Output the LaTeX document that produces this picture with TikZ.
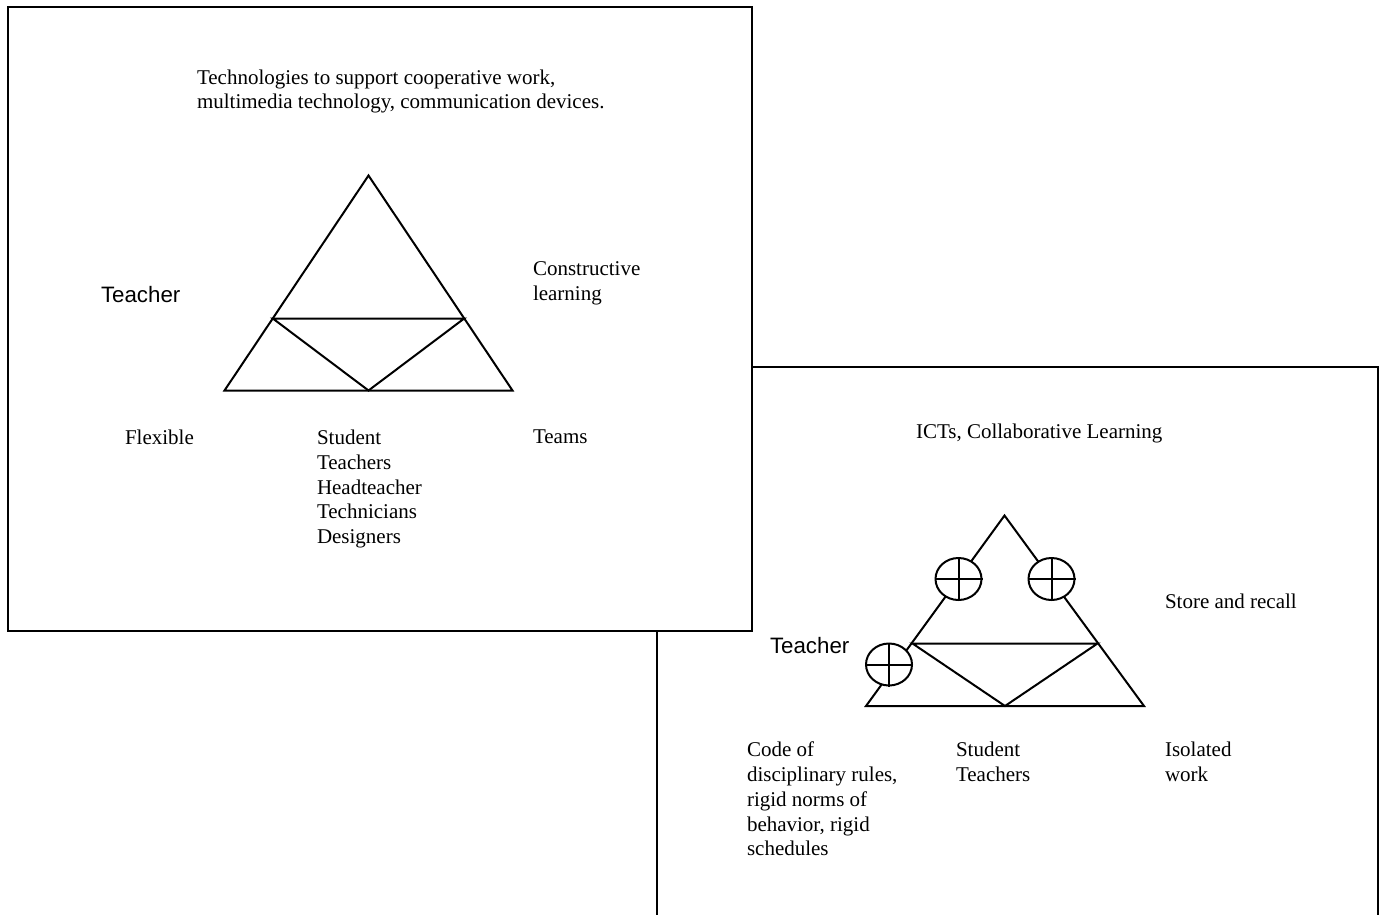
\documentclass[tikz,border=0pt]{standalone}
\usepackage{fontspec}
\setmainfont{Liberation Serif}
\setsansfont{Liberation Sans}
\usetikzlibrary{shapes.geometric}
\begin{document}
\begin{tikzpicture}[x=1pt,y=-1pt,line width=2pt,
  txt/.style={anchor=north west,inner sep=0pt,align=left,font=\fontsize{21}{24.8}\selectfont},
  sftxt/.style={anchor=base west,inner sep=0pt,font=\sffamily\fontsize{22.3}{26}\selectfont},
  panel/.style={draw=black,fill=white,line width=2pt},
  tri/.style={draw=black,line width=2pt,line join=miter},
  plusmark/.style={ellipse,draw=black,fill=white,line width=2pt,inner sep=0pt,minimum width=46pt,minimum height=42pt}]
\path[use as bounding box] (0,0) rectangle (1381,915);
\clip (0,0) rectangle (1381,915);
% back panel
\path[panel] (657,367) rectangle (1378,940);
% front panel
\path[panel] (8,7) rectangle (752,631);

% ---- front panel contents
\node[txt] (tech) at (196,68.5) {Technologies to support cooperative work,\\multimedia technology, communication devices.};
\node[sftxt] (teacherA) at (100,302) {Teacher};
\node[txt] (constr) at (532,261) {Constructive\\learning};
\node[txt] (flex) at (124,429) {Flexible};
\node[txt] (studA) at (316,429) {Student\\Teachers\\Headteacher\\Technicians\\Designers};
\node[txt] (teams) at (532,429) {Teams};

\coordinate (A1) at (368.5,175.5);
\coordinate (L1) at (224.5,390.5);
\coordinate (R1) at (512.5,390.5);
\coordinate (ML1) at (272.8,318.5);
\coordinate (MR1) at (464.2,318.5);
\coordinate (B1) at (368.5,390.5);
\draw[tri] (A1) -- (R1) -- (L1) -- cycle;
\draw[tri] (ML1) -- (MR1) -- (B1) -- cycle;

% ---- back panel contents
\node[txt] (icts) at (915,423) {ICTs, Collaborative Learning};
\node[txt] (store) at (1164,593) {Store and recall};
\node[sftxt] (teacherB) at (769,653) {Teacher};
\node[txt] (code) at (746,741) {Code of\\disciplinary rules,\\rigid norms of\\behavior, rigid\\schedules};
\node[txt] (studB) at (955,741) {Student\\Teachers};
\node[txt] (iso) at (1164,741) {Isolated\\work};

\coordinate (A2) at (1004.5,515.5);
\coordinate (L2) at (866,706);
\coordinate (R2) at (1144,706);
\coordinate (ML2) at (912.5,643.5);
\coordinate (MR2) at (1097.5,643.5);
\coordinate (B2) at (1005,706);
\draw[tri] (A2) -- (R2) -- (L2) -- cycle;
\draw[tri] (ML2) -- (MR2) -- (B2) -- cycle;

\foreach \n/\p in {p1/{(958.5,579)},p2/{(1051.5,579)},p3/{(889,664.5)}}{
  \node[plusmark] (\n) at \p {};
  \draw (\n.north) -- (\n.south);
  \draw (\n.west) -- (\n.east);
}
\end{tikzpicture}
\end{document}
